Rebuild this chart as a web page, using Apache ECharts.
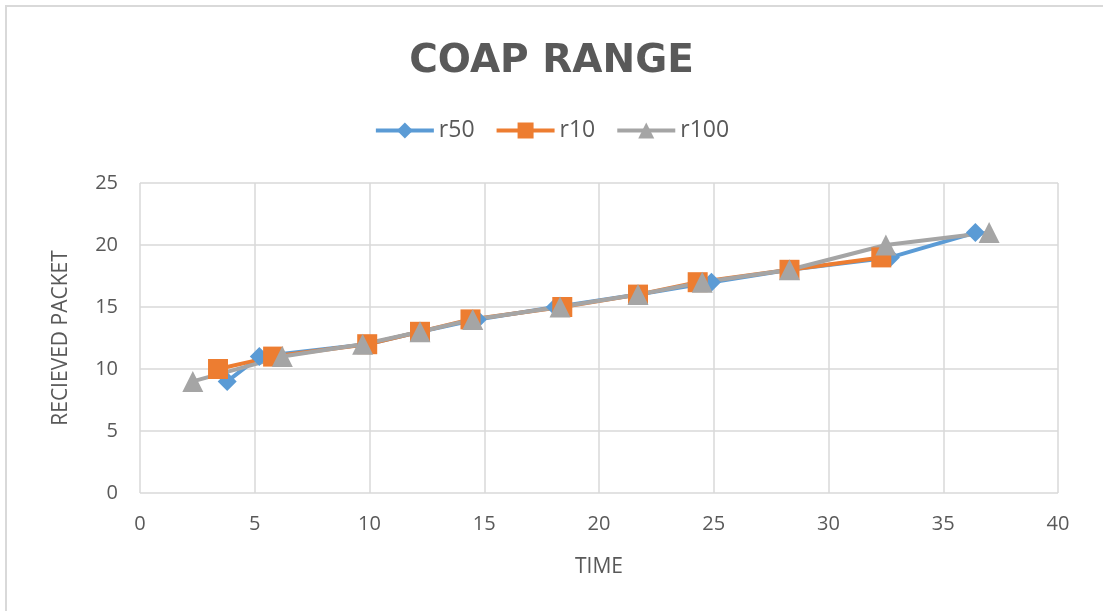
<!DOCTYPE html>
<html>
<head>
<meta charset="utf-8">
<script src="https://cdn.jsdelivr.net/npm/echarts@6/dist/echarts.min.js"></script>
<style>html,body{margin:0;padding:0;background:#fff;}#c{width:1103px;height:611px;}</style>
</head>
<body>
<div id="c"></div>
<script>
const titleText = 'COAP RANGE';
const xName = 'TIME';
const yName = 'RECIEVED PACKET';
const seriesNames = ['r50', 'r10', 'r100'];
const r50 = [[3.8,9],[5.2,11],[9.9,12],[12.2,13],[14.7,14],[18.1,15],[21.7,16],[24.9,17],[28.3,18],[32.7,19],[36.4,21]];
const r10 = [[3.4,10],[5.8,11],[9.9,12],[12.2,13],[14.4,14],[18.4,15],[21.7,16],[24.3,17],[28.3,18],[32.3,19]];
const r100 = [[2.3,9],[6.2,11],[9.7,12],[12.2,13],[14.5,14],[18.3,15],[21.7,16],[24.5,17],[28.3,18],[32.5,20],[37,21]];

const colors = ['#5B9BD5', '#ED7D31', '#A5A5A5'];
const symbols = ['diamond', 'rect', 'triangle'];
const sizes = [19, 20, 21];
const datas = [r50, r10, r100];
const txt = '#595959';
const font = 'Open Sans';

const chart = echarts.init(document.getElementById('c'));
chart.setOption({
  animation: false,
  backgroundColor: '#fff',
  graphic: [{
    type: 'rect', shape: {x: 6, y: 6, width: 1110, height: 620},
    style: {fill: 'none', stroke: '#d9d9d9', lineWidth: 2}, silent: true
  }],
  title: {
    text: titleText, left: 'center', top: 37,
    textStyle: {fontFamily: 'DejaVu Sans', fontWeight: 'bold', fontSize: 39, color: txt}
  },
  legend: {
    top: 114, left: 'center', itemWidth: 58, itemHeight: 20, itemGap: 20,
    textStyle: {fontFamily: font, fontSize: 23, color: txt},
    lineStyle: {width: 4},
    data: seriesNames
  },
  grid: {left: 140, right: 45, top: 183, bottom: 118},
  xAxis: {
    type: 'value', min: 0, max: 40, interval: 5,
    name: xName, nameLocation: 'middle', nameGap: 64,
    nameTextStyle: {fontFamily: font, fontSize: 21, color: txt},
    axisLine: {show: false}, axisTick: {show: false},
    axisLabel: {fontFamily: font, fontSize: 20, color: txt, margin: 21},
    splitLine: {show: true, lineStyle: {color: '#d9d9d9', width: 1.5}}
  },
  yAxis: {
    type: 'value', min: 0, max: 25, interval: 5,
    name: yName, nameLocation: 'middle', nameGap: 68,
    nameTextStyle: {fontFamily: font, fontSize: 21, color: txt},
    axisLine: {show: false}, axisTick: {show: false},
    axisLabel: {fontFamily: font, fontSize: 20, color: txt, margin: 22},
    splitLine: {show: true, lineStyle: {color: '#d9d9d9', width: 1.5}}
  },
  series: seriesNames.map((n, i) => ({
    name: n, type: 'line', data: datas[i],
    symbol: symbols[i], symbolSize: sizes[i],
    itemStyle: {color: colors[i]},
    lineStyle: {color: colors[i], width: 4}
  }))
});
</script>
</body>
</html>
